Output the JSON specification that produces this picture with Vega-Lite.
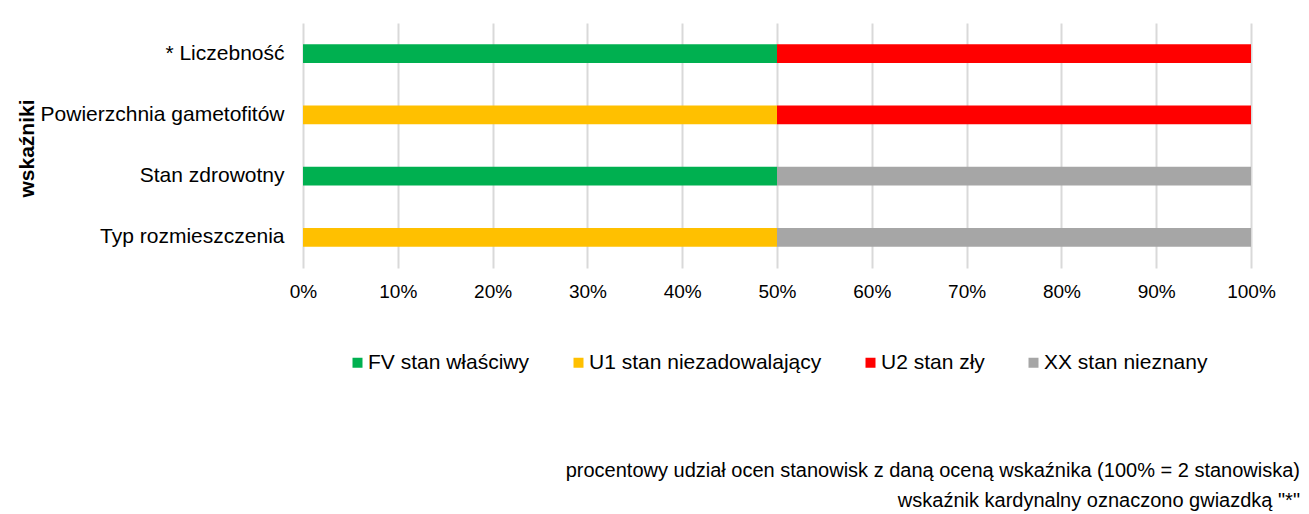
{
  "$schema": "https://vega.github.io/schema/vega-lite/v6.json",
  "autosize": {"type": "none"},
  "width": 948,
  "height": 245,
  "padding": {"left": 303, "top": 23, "right": 58, "bottom": 246},
  "background": "white",
  "config": {
    "font": "Liberation Sans",
    "view": {"stroke": null}
  },
  "data": {
    "values": [
      {"wskaznik": "* Liczebność", "ocena": "FV stan właściwy", "udzial": 50},
      {"wskaznik": "* Liczebność", "ocena": "U2 stan zły", "udzial": 50},
      {"wskaznik": "Powierzchnia gametofitów", "ocena": "U1 stan niezadowalający", "udzial": 50},
      {"wskaznik": "Powierzchnia gametofitów", "ocena": "U2 stan zły", "udzial": 50},
      {"wskaznik": "Stan zdrowotny", "ocena": "FV stan właściwy", "udzial": 50},
      {"wskaznik": "Stan zdrowotny", "ocena": "XX stan nieznany", "udzial": 50},
      {"wskaznik": "Typ rozmieszczenia", "ocena": "U1 stan niezadowalający", "udzial": 50},
      {"wskaznik": "Typ rozmieszczenia", "ocena": "XX stan nieznany", "udzial": 50}
    ]
  },
  "title": {
    "text": ["procentowy udział ocen stanowisk z daną oceną wskaźnika (100% = 2 stanowiska)", "wskaźnik kardynalny oznaczono gwiazdką \"*\""],
    "orient": "bottom",
    "anchor": "end",
    "frame": "group",
    "dx": 49,
    "offset": 88,
    "fontSize": 20,
    "fontWeight": "normal",
    "lineHeight": 30,
    "color": "#000000",
    "font": "Liberation Sans"
  },
  "mark": {"type": "bar"},
  "encoding": {
    "y": {
      "field": "wskaznik",
      "type": "nominal",
      "sort": ["* Liczebność", "Powierzchnia gametofitów", "Stan zdrowotny", "Typ rozmieszczenia"],
      "scale": {"paddingInner": 0.69, "paddingOuter": 0.345},
      "axis": {
        "title": "wskaźniki",
        "titleFontSize": 21,
        "titleFontWeight": "bold",
        "titleColor": "#000000",
        "titleAngle": -90,
        "titleAlign": "center",
        "titleBaseline": "middle",
        "titleX": -276,
        "titleY": 125,
        "labelFontSize": 21,
        "labelColor": "#000000",
        "labelPadding": 19,
        "ticks": false,
        "domain": false,
        "grid": false,
        "labelLimit": 400
      }
    },
    "x": {
      "field": "udzial",
      "type": "quantitative",
      "stack": "zero",
      "scale": {"domain": [0, 100], "nice": false},
      "axis": {
        "title": null,
        "values": [0, 10, 20, 30, 40, 50, 60, 70, 80, 90, 100],
        "labelExpr": "datum.value + '%'",
        "labelFontSize": 19,
        "labelColor": "#000000",
        "labelPadding": 14,
        "ticks": false,
        "domain": false,
        "grid": true,
        "gridColor": "#d9d9d9",
        "gridWidth": 2,
        "labelFlush": false
      }
    },
    "color": {
      "field": "ocena",
      "type": "nominal",
      "scale": {
        "domain": ["FV stan właściwy", "U1 stan niezadowalający", "U2 stan zły", "XX stan nieznany"],
        "range": ["#00B050", "#FFC000", "#FF0000", "#A6A6A6"]
      },
      "legend": {
        "title": null,
        "orient": "none",
        "legendX": 44,
        "legendY": 329,
        "direction": "horizontal",
        "symbolType": "square",
        "symbolSize": 100,
        "symbolStrokeWidth": 0,
        "labelFontSize": 21,
        "labelColor": "#000000",
        "labelOffset": 0,
        "columnPadding": 38,
        "padding": 0,
        "labelLimit": 400
      }
    }
  }
}
